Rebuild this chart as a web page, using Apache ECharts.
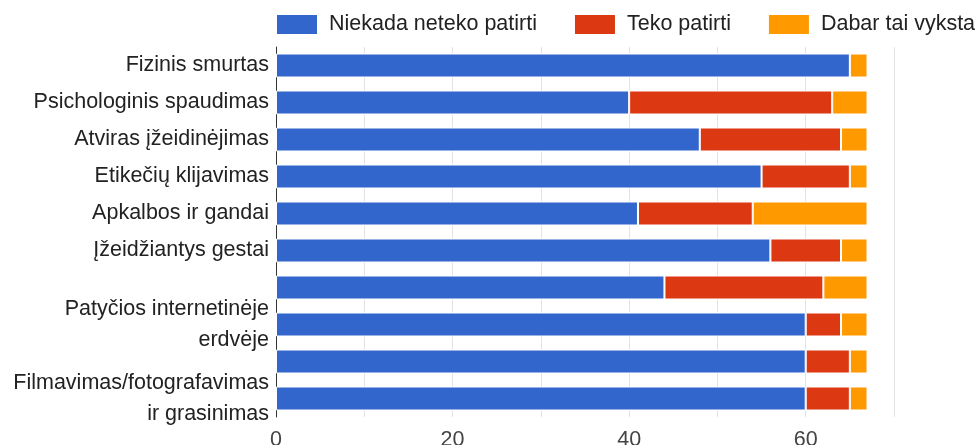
<!DOCTYPE html>
<html>
<head>
<meta charset="utf-8">
<script src="https://cdn.jsdelivr.net/npm/echarts@6/dist/echarts.min.js"></script>
<style>
html,body{margin:0;padding:0;background:#fff;}
#chart{width:979px;height:445px;}
</style>
</head>
<body>
<div id="chart"></div>
<script>
const categories = [
  "Fizinis smurtas",
  "Psichologinis spaudimas",
  "Atviras įžeidinėjimas",
  "Etikečių klijavimas",
  "Apkalbos ir gandai",
  "Įžeidžiantys gestai",
  "",
  "Patyčios internetinėje\nerdvėje",
  "",
  "Filmavimas/fotografavimas\nir grasinimas"
];
const seriesNames = ["Niekada neteko patirti", "Teko patirti", "Dabar tai vyksta"];
const niekada = [65, 40, 48, 55, 41, 56, 44, 60, 60, 60];
const teko = [0, 23, 16, 10, 13, 8, 18, 4, 5, 5];
const dabar = [2, 4, 3, 2, 13, 3, 5, 3, 2, 2];
const xTicks = [0, 20, 40, 60];
const colors = ["#3366cc", "#dc3912", "#ff9900"];

const font = '"Liberation Sans", Arial, sans-serif';
const chart = echarts.init(document.getElementById('chart'), null, {renderer: 'canvas'});
const values = [niekada, teko, dabar];
chart.setOption({
  animation: false,
  backgroundColor: '#fff',
  color: colors,
  legend: {
    left: 275, top: 13, padding: 0,
    icon: 'rect',
    itemWidth: 42, itemHeight: 21,
    itemGap: 36,
    textStyle: {fontFamily: font, fontSize: 21.5, color: '#222', padding: [0, 0, 0, 6]},
    data: seriesNames
  },
  grid: {left: 276, right: 85, top: 47, bottom: 28, containLabel: false, outerBoundsMode: 'none'},
  xAxis: {
    type: 'value', min: 0, max: 70, interval: 10,
    axisLine: {show: false}, axisTick: {show: false},
    splitLine: {show: true, lineStyle: {color: '#e3e3e3', width: 1}},
    axisLabel: {
      margin: 12,
      fontFamily: font, fontSize: 21.5, color: '#444',
      formatter: v => xTicks.indexOf(v) >= 0 ? String(v) : ''
    }
  },
  yAxis: {
    type: 'category', inverse: true, data: categories,
    axisTick: {show: false},
    axisLine: {show: true, lineStyle: {color: '#333', width: 1}},
    axisLabel: {margin: 7, fontFamily: font, fontSize: 21.5, color: '#222', lineHeight: 31, interval: 0}
  },
  series: seriesNames.map((n, i) => ({
    name: n, type: 'bar', stack: 'total',
    barWidth: 24,
    itemStyle: {color: colors[i], borderColor: '#fff', borderWidth: 1},
    data: values[i]
  }))
});
</script>
</body>
</html>
